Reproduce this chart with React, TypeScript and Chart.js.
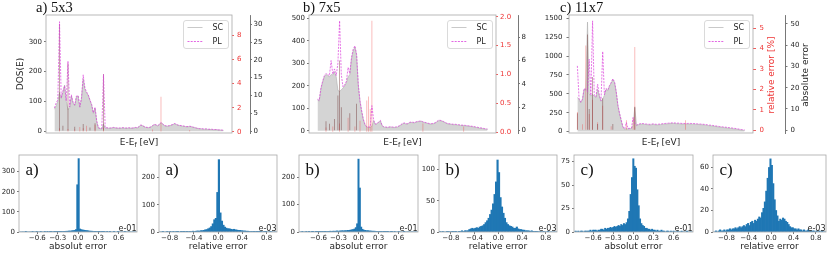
import React, { useEffect, useRef } from "react";
import { Chart, registerables } from "chart.js";

Chart.register(...registerables);

/* ================= DATA : top row (density of states) ================= */
const PANEL_TITLES = ["a) 5x3", "b) 7x5", "c) 11x7"];
const LEGEND_LABELS = ["SC", "PL"];
const DOS_Y_TITLE = "DOS(E)";
const REL_TITLE = "relative error [%]";
const ABS_TITLE = "absolute error";

const DOS_A_SC = [
  74, 85, 100, 130, 110, 130, 155, 100, 72, 80, 118, 95, 85, 115, 118, 80, 110, 175, 140, 128,
  120, 103, 88, 60, 78, 32, 10, 9, 8, 25, 10,
  11, 10, 10, 11, 12, 11, 10, 10, 10, 11, 11, 10, 10, 11, 10, 10, 11, 12, 11,
  15, 20, 19, 15, 13, 12, 12, 14, 18, 22, 21, 18, 22,
  28, 24, 19, 17, 17, 18, 20, 22, 25, 23, 20, 19, 18,
  17, 16, 15, 15, 16, 15, 13, 12, 10, 9, 8, 8, 7,
  7, 7, 6, 6, 6, 5, 5, 5, 4, 4, 3, 3,
];
const DOS_A_PL = [
  78, 95, 105, 367, 112, 135, 152, 102, 235, 82, 122, 97, 88, 118, 120, 82, 112, 189, 145, 132,
  122, 105, 90, 62, 80, 35, 12, 10, 9, 190, 12,
  12, 11, 11, 12, 13, 12, 11, 11, 11, 12, 12, 11, 11, 12, 11, 11, 12, 13, 12,
  16, 21, 20, 16, 14, 13, 13, 15, 19, 23, 22, 19, 23,
  30, 25, 20, 18, 18, 19, 21, 23, 26, 24, 21, 20, 19,
  18, 17, 16, 16, 17, 16, 14, 13, 11, 10, 9, 9, 8,
  8, 8, 7, 7, 7, 6, 6, 6, 5, 5, 4, 4,
];
const REL_A = [[63, 2.9], [3, 0.3], [8, 0.25], [12, 0.2], [15, 0.4], [17, 0.3], [19, 0.5], [24, 0.6], [29, 0.35], [58, 0.2], [80, 0.15]];
const ABS_A = [[3, 30], [8, 19], [29, 16], [5, 1.5], [12, 1.2], [17, 2], [21, 1], [24, 2.2]];
const DOS_A_TICKS = [0, 100, 200, 300];
const REL_A_TICKS = [0, 2, 4, 6, 8];
const ABS_A_TICKS = [0, 5, 10, 15, 20, 25, 30];

const DOS_B_SC = [
  137, 132, 185, 215, 240, 250, 245, 240, 250, 248,
  262, 240, 180, 175, 182, 190, 200, 215, 240, 250,
  320, 355, 372, 335, 200, 130, 85, 48, 25, 16,
  15, 15, 20, 45, 28, 30, 38, 44, 22, 16,
  15, 14, 15, 16, 15, 14, 15, 16, 20, 25,
  30, 33, 30, 30, 35, 37, 36, 35, 38, 40,
  41, 42, 38, 36, 34, 32, 30, 30, 31, 33,
  38, 44, 45, 43, 40, 36, 32, 30, 29, 28,
  27, 27, 26, 25, 24, 23, 23, 22, 21, 20,
  19, 18, 17, 15, 14, 12, 11, 10, 8, 7, 6,
];
const DOS_B_PL = [
  140, 135, 190, 220, 245, 255, 250, 245, 312, 252,
  275, 245, 300, 489, 250, 195, 205, 220, 282, 255,
  326, 363, 378, 340, 205, 133, 88, 50, 27, 18,
  17, 17, 112, 48, 30, 32, 40, 46, 24, 18,
  17, 16, 17, 18, 17, 16, 17, 18, 22, 27,
  33, 35, 32, 32, 37, 39, 38, 37, 40, 42,
  43, 44, 40, 38, 36, 34, 32, 32, 33, 35,
  40, 46, 47, 45, 42, 38, 34, 32, 31, 30,
  29, 29, 28, 27, 26, 25, 25, 24, 23, 22,
  21, 20, 19, 17, 16, 14, 13, 12, 10, 9, 8,
];
const REL_B = [[32, 1.93], [29, 0.55], [30, 0.62], [31, 0.4], [18, 0.25], [13, 0.15], [22, 0.1], [25, 0.2], [62, 0.15], [86, 0.1], [5, 0.08], [9, 0.1]];
const ABS_B = [[13, 6], [12, 3], [14, 2], [23, 2.3], [19, 1.5], [5, 0.8], [7, 0.6], [10, 1.0]];
const DOS_B_TICKS = [0, 100, 200, 300, 400, 500];
const REL_B_TICKS = [0, 0.5, 1, 1.5, 2];
const ABS_B_TICKS = [0, 2, 4, 6, 8];

const DOS_C_SC = [
  450, 430, 380, 420, 560, 550, 1450, 500, 470, 490,
  470, 450, 560, 470, 400, 430, 480, 560, 540, 600,
  640, 690, 650, 520, 340, 230, 140, 55, 33, 40,
  35, 38, 40, 80, 320, 77, 90, 95, 100, 98,
  95, 92, 90, 88, 92, 95, 90, 88, 90, 92,
  95, 98, 100, 102, 104, 106, 108, 108, 106, 104,
  104, 102, 100, 100, 99, 100, 101, 100, 99, 98,
  97, 95, 93, 92, 90, 88, 85, 82, 78, 77,
  74, 70, 67, 64, 60, 57, 55, 52, 50, 47,
  44, 42, 38, 35, 32, 28, 24, 20, 17, 15,
];
const DOS_C_PL = [
  870, 440, 390, 430, 570, 560, 530, 960, 480, 1466,
  480, 460, 628, 480, 410, 1060, 490, 570, 550, 610,
  650, 700, 660, 530, 350, 240, 150, 60, 38, 121,
  40, 43, 45, 187, 110, 85, 98, 103, 108, 106,
  103, 100, 98, 96, 100, 103, 98, 96, 98, 100,
  103, 106, 108, 110, 112, 114, 116, 116, 114, 112,
  112, 110, 108, 108, 107, 108, 109, 108, 107, 106,
  105, 103, 101, 100, 98, 96, 93, 90, 86, 85,
  82, 78, 75, 72, 68, 65, 63, 60, 58, 55,
  52, 50, 46, 43, 40, 36, 32, 28, 25, 23,
];
const REL_C = [[34, 4.08], [5, 4.16], [9, 1.5], [15, 1.2], [7, 0.8], [0, 0.9], [12, 0.4], [29, 0.5], [33, 0.6], [64, 0.5], [3, 0.3], [20, 0.2]];
const ABS_C = [[6, 45], [9, 25], [15, 15], [34, 11], [7, 10], [0, 8], [12, 3], [21, 3]];
const DOS_C_TICKS = [0, 250, 500, 750, 1000, 1250, 1500];
const REL_C_TICKS = [0, 1, 2, 3, 4, 5];
const ABS_C_TICKS = [0, 10, 20, 30, 40, 50];

/* ================= DATA : bottom row (error histograms) ================= */
const HIST_LETTERS = ["a)", "a)", "b)", "b)", "c)", "c)"];
const HIST_X_TITLES = ["absolut error", "relative error", "absolut error", "relative error", "absolut error", "relative error"];
const HIST_EXPONENTS = ["e-01", "e-03", "e-01", "e-03", "e-01", "e-03"];
const ABS_X_TICKS = [-0.6, -0.3, 0, 0.3, 0.6];
const REL_X_TICKS = [-0.8, -0.4, 0, 0.4, 0.8];

const H1_COUNTS = [
  0, 0, 0, 0, 1, 0, 0, 0, 0, 1,
  0, 0, 1, 0, 0, 1, 0, 0, 1, 0,
  1, 0, 1, 1, 0, 1, 1, 2, 1, 1,
  2, 2, 3, 3, 4, 4, 5, 5, 6, 7,
  8, 12, 235, 365,
  15, 12, 10, 9, 8, 7,
  6, 5, 4, 4, 3, 3, 2, 2, 1, 2,
  1, 1, 1, 0, 1, 0, 1, 0, 0, 1,
  0, 0, 1, 0, 0, 0, 0, 1, 0, 0,
  0, 0, 0, 0, 0, 0,
];
const H2_COUNTS = [
  0, 0, 1, 0, 0, 1, 0, 1, 0, 1,
  0, 1, 1, 0, 1, 1, 1, 2, 1, 2,
  2, 2, 3, 2, 3, 4, 3, 5, 5, 6,
  8, 9, 12, 15, 20, 30, 45, 50,
  145, 265,
  70, 40, 25, 18, 14, 12, 12, 10, 9, 10,
  8, 7, 6, 6, 5, 4, 4, 3, 3, 2,
  2, 2, 1, 2, 1, 1, 1, 1, 0, 1,
  1, 0, 0, 1, 0, 0, 0, 0,
];
const H3_COUNTS = [
  0, 0, 1, 0, 0, 1, 0, 1, 0, 1,
  1, 0, 1, 1, 1, 1, 2, 1, 2, 1,
  2, 2, 2, 3, 2, 3, 3, 3, 4, 3,
  4, 4, 5, 4, 5, 5, 6, 6, 7, 8,
  9, 11, 16, 30,
  265, 160,
  18, 10, 7, 6,
  5, 5, 4, 4, 3, 3, 3, 2, 2, 2,
  2, 1, 2, 1, 1, 1, 1, 0, 1, 1,
  0, 1, 0, 0, 1, 0, 0, 0, 1, 0,
  0, 0, 0, 0, 0, 0, 0, 0, 0,
];
const H4_COUNTS = [
  1, 0, 1, 0, 0, 1, 1, 0, 1, 1,
  1, 1, 0, 1, 1, 2, 1, 2, 2, 2,
  4, 5, 6, 5, 6, 7, 6, 8, 9, 10,
  12, 15, 18, 22, 28, 35, 45, 60, 80,
  115, 95,
  55, 40, 30, 22, 15, 12, 10, 9, 8,
  6, 6, 8, 5, 4, 4, 3, 3, 2, 2,
  2, 1, 2, 1, 1, 1, 1, 0, 1, 0,
  1, 0, 0, 1, 0, 0, 0, 0, 0, 0,
];
const H5_COUNTS = [
  0, 1, 0, 1, 0, 1, 1, 0, 1, 1,
  1, 1, 2, 1, 2, 2, 2, 1, 2, 2,
  3, 3, 2, 4, 3, 4, 4, 5, 4, 5,
  6, 5, 6, 7, 6, 8, 7, 9, 8, 10,
  14, 22, 40, 58,
  78,
  70, 68, 45, 28, 14,
  9, 7, 6, 4, 4, 3, 3, 2, 3, 2,
  2, 1, 2, 1, 1, 2, 1, 1, 0, 1,
  1, 0, 1, 0, 1, 0, 0, 1, 0, 0,
  1, 0, 0, 0, 1, 0, 0, 0, 0,
];
const H6_COUNTS = [
  0, 1, 0, 1, 2, 1, 1, 2, 1, 2,
  2, 3, 2, 3, 3, 4, 3, 4, 5, 4,
  5, 6, 5, 7, 8, 6, 9, 10, 8, 11,
  10, 12, 14, 13, 18, 22, 28, 38, 50, 60,
  68, 62,
  45, 30, 20, 15, 10, 12, 11, 13,
  12, 10, 9, 7, 5, 4, 4, 3, 3, 2,
  3, 2, 2, 1, 2, 1, 1, 2, 1, 1,
  1, 1, 0, 1, 0, 1, 0, 1, 0, 0,
];

const HISTS = [
  { counts: H1_COUNTS, start: -0.86, width: 0.02, xMin: -0.87, xMax: 0.87, yMax: 383, xTicks: ABS_X_TICKS, yTicks: [0, 100, 200, 300] },
  { counts: H2_COUNTS, start: -0.975, width: 0.025, xMin: -0.975, xMax: 0.97, yMax: 282, xTicks: REL_X_TICKS, yTicks: [0, 100, 200] },
  { counts: H3_COUNTS, start: -0.89, width: 0.02, xMin: -0.89, xMax: 0.89, yMax: 280, xTicks: ABS_X_TICKS, yTicks: [0, 100, 200] },
  { counts: H4_COUNTS, start: -1.0, width: 0.025, xMin: -1.0, xMax: 0.99, yMax: 123, xTicks: REL_X_TICKS, yTicks: [0, 50, 100] },
  { counts: H5_COUNTS, start: -0.89, width: 0.02, xMin: -0.885, xMax: 0.89, yMax: 82, xTicks: ABS_X_TICKS, yTicks: [0, 25, 50, 75] },
  { counts: H6_COUNTS, start: -1.025, width: 0.025, xMin: -1.04, xMax: 0.98, yMax: 71.6, xTicks: REL_X_TICKS, yTicks: [0, 20, 40, 60] },
];

const DOS_PANELS = [
  { sc: DOS_A_SC, pl: DOS_A_PL, rel: REL_A, abs: ABS_A, dosTicks: DOS_A_TICKS, relTicks: REL_A_TICKS, absTicks: ABS_A_TICKS, relDec: 0, dosRange: [-5.7, 389.4], relRange: [-0.09, 9.66], absRange: [-0.53, 32.6] },
  { sc: DOS_B_SC, pl: DOS_B_PL, rel: REL_B, abs: ABS_B, dosTicks: DOS_B_TICKS, relTicks: REL_B_TICKS, absTicks: ABS_B_TICKS, relDec: 1, dosRange: [-9.8, 514.7], relRange: [-0.014, 2.031], absRange: [-0.2, 9.9] },
  { sc: DOS_C_SC, pl: DOS_C_PL, rel: REL_C, abs: ABS_C, dosTicks: DOS_C_TICKS, relTicks: REL_C_TICKS, absTicks: ABS_C_TICKS, relDec: 0, dosRange: [-18.5, 1544], relRange: [-0.13, 5.65], absRange: [-1.29, 54.2] },
];

/* ================= layout & style ================= */
const FONT = "DejaVu Sans";
const SERIF = "Liberation Serif";
const TICK_FONT = { family: FONT, size: 7 };
const TITLE_FONT = { family: FONT, size: 9 };
const TXT = "#262626";
const AXC = "#555555";
const RED = "#ee3333";
const FRAME = "#a8a8a8";
const SC_LINE = "rgba(175,175,175,0.9)";
const SC_FILL = "rgb(212,212,212)";
const PL_LINE = "rgba(218,55,218,0.85)";
const BAR = "#1f77b4";

const TOP_H = 145;
const DOS_LAYOUT = [
  { left: 0, width: 275, wl: 46, wr: 18, wb: 25, padR: 0, lTick: 2, lPad: 2, rTick: 2, rPad: 3, bTick: 2, bPad: 1.5, title: true },
  { left: 275, width: 265, wl: 34, wr: 22, wb: 22, padR: 0, lTick: 2, lPad: 2, rTick: 2, rPad: 2, bTick: 2, bPad: 1.5, title: false },
  { left: 540, width: 290, wl: 29, wr: 32, wb: 27, padR: 18, lTick: 2.5, lPad: 4, rTick: 3, rPad: 3.5, bTick: 2.5, bPad: 3, title: false },
];
const DOS_AREAS = [[46, 232], [309, 496], [569, 753]];
const HIST_LAYOUT = [
  { left: 0, width: 140, padR: 3 },
  { left: 140, width: 140, padR: 3 },
  { left: 280, width: 140, padR: 2 },
  { left: 420, width: 140, padR: 3 },
  { left: 555, width: 140, padR: 2 },
  { left: 694, width: 136, padR: 4 },
];
const HIST_AREAS = [[19, 137], [159, 277], [299, 418], [439, 557], [574, 693], [713, 826]];

const fmt = (v: number, d: number) => (v < 0 ? "\u2212" : "") + Math.abs(v).toFixed(d);

const framePlugin = (color: string) => ({
  id: "frame",
  afterDatasetsDraw(chart: any) {
    const { ctx, chartArea: a } = chart;
    ctx.save();
    ctx.strokeStyle = color;
    ctx.lineWidth = 0.8;
    ctx.strokeRect(a.left, a.top, a.right - a.left, a.bottom - a.top);
    ctx.restore();
  },
});

const legendPlugin = {
  id: "dosLegend",
  afterDraw(chart: any) {
    const { ctx, chartArea: a } = chart;
    const w = 45, h = 28;
    const x = a.right - 3.5 - w, y = a.top + 5.5;
    ctx.save();
    ctx.beginPath();
    ctx.roundRect(x, y, w, h, 2.5);
    ctx.fillStyle = "rgba(255,255,255,0.85)";
    ctx.fill();
    ctx.strokeStyle = "#d0d0d0";
    ctx.lineWidth = 0.8;
    ctx.stroke();
    const rows = [y + 7, y + 21];
    const styles = [
      { color: "rgba(195,195,195,1)", dash: [] as number[] },
      { color: PL_LINE, dash: [2, 1.2] },
    ];
    LEGEND_LABELS.forEach((lab, i) => {
      ctx.beginPath();
      ctx.setLineDash(styles[i].dash);
      ctx.strokeStyle = styles[i].color;
      ctx.lineWidth = 0.9;
      ctx.moveTo(x + 4, rows[i]);
      ctx.lineTo(x + 19, rows[i]);
      ctx.stroke();
      ctx.setLineDash([]);
      ctx.fillStyle = TXT;
      ctx.font = `8px "${FONT}"`;
      ctx.textBaseline = "middle";
      ctx.textAlign = "left";
      ctx.fillText(lab, x + 29, rows[i]);
    });
    ctx.restore();
  },
};

function yAxis(o: any) {
  return {
    type: "linear",
    position: o.position,
    weight: o.weight || 0,
    min: o.min,
    max: o.max,
    afterBuildTicks: (s: any) => { s.ticks = o.ticks.map((v: number) => ({ value: v })); },
    afterFit: (s: any) => { s.width = o.width; },
    grid: { display: true, drawOnChartArea: false, drawTicks: true, tickLength: o.tickLength, color: o.tickColor, tickColor: o.tickColor, tickWidth: 0.8 },
    border: { display: !!o.border, color: o.border || o.tickColor, width: 0.8 },
    ticks: { color: o.color, font: TICK_FONT, padding: o.pad, autoSkip: false, maxRotation: 0, callback: (v: any) => fmt(Number(v), o.dec || 0) },
    title: o.title
      ? { display: true, text: o.title, color: TXT, font: TITLE_FONT, padding: { top: o.titlePad, bottom: 0 } }
      : { display: false },
  };
}

const errBar = { barThickness: 0.8, maxBarThickness: 0.8, inflateAmount: 0, borderWidth: 0, grouped: false };

function dosConfig(i: number) {
  const p = DOS_PANELS[i];
  const L = DOS_LAYOUT[i];
  const n = p.sc.length - 1;
  return {
    type: "line",
    data: {
      datasets: [
        { type: "line", label: LEGEND_LABELS[1], data: p.pl.map((y, k) => ({ x: k, y })), yAxisID: "y", borderColor: PL_LINE, borderWidth: 0.8, borderDash: [2, 1.2], pointRadius: 0, fill: false, tension: 0, order: 0 },
        { type: "bar", label: "abs", data: p.abs.map(([x, y]) => ({ x, y })), yAxisID: "yAbs", backgroundColor: "rgba(100,35,35,0.5)", ...errBar, order: 1 },
        { type: "bar", label: "rel", data: p.rel.map(([x, y]) => ({ x, y })), yAxisID: "yRel", backgroundColor: "rgba(240,70,70,0.45)", ...errBar, order: 2 },
        { type: "line", label: LEGEND_LABELS[0], data: p.sc.map((y, k) => ({ x: k, y })), yAxisID: "y", borderColor: SC_LINE, backgroundColor: SC_FILL, borderWidth: 0.7, pointRadius: 0, fill: "origin", tension: 0, order: 3 },
      ],
    },
    options: {
      animation: false,
      responsive: false,
      events: [],
      layout: { padding: { left: 0, right: L.padR, top: 15, bottom: TOP_H - 133 } },
      plugins: { legend: { display: false }, tooltip: { enabled: false }, title: { display: false } },
      scales: {
        x: { type: "linear", display: false, min: -0.05 * n, max: 1.05 * n, offset: false, grid: { offset: false } },
        y: yAxis({ position: "left", min: p.dosRange[0], max: p.dosRange[1], ticks: p.dosTicks, width: L.wl, tickLength: L.lTick, pad: L.lPad, color: TXT, tickColor: AXC, title: L.title ? DOS_Y_TITLE : null, titlePad: 15.3 }),
        yRel: yAxis({ position: "right", weight: 0, min: p.relRange[0], max: p.relRange[1], ticks: p.relTicks, width: L.wr, tickLength: L.rTick, pad: L.rPad, color: RED, tickColor: RED, dec: p.relDec }),
        yAbs: yAxis({ position: "right", weight: 1, min: p.absRange[0], max: p.absRange[1], ticks: p.absTicks, width: L.wb, tickLength: L.bTick, pad: L.bPad, color: TXT, tickColor: AXC, border: "#555555" }),
      },
    },
    plugins: [framePlugin(FRAME), legendPlugin],
  };
}

function histConfig(i: number) {
  const h = HISTS[i];
  const L = HIST_LAYOUT[i];
  return {
    type: "bar",
    data: {
      datasets: [
        { data: h.counts.map((c, k) => ({ x: h.start + (k + 0.5) * h.width, y: c })), backgroundColor: BAR, borderWidth: 0, barPercentage: 1, categoryPercentage: 1, grouped: false },
      ],
    },
    options: {
      animation: false,
      responsive: false,
      events: [],
      layout: { padding: { left: 0, right: L.padR, top: 15, bottom: 0 } },
      plugins: { legend: { display: false }, tooltip: { enabled: false }, title: { display: false } },
      scales: {
        x: {
          type: "linear",
          min: h.xMin,
          max: h.xMax,
          offset: false,
          afterBuildTicks: (s: any) => { s.ticks = h.xTicks.map((v) => ({ value: v })); },
          afterFit: (s: any) => { s.height = 23; },
          grid: { display: true, offset: false, drawOnChartArea: false, drawTicks: true, tickLength: 2, color: AXC, tickColor: AXC, tickWidth: 0.8 },
          border: { display: false },
          ticks: { color: TXT, font: TICK_FONT, padding: 0, autoSkip: false, maxRotation: 0, callback: (v: any) => fmt(Number(v), 1) },
          title: { display: true, text: HIST_X_TITLES[i], color: TXT, font: TITLE_FONT, padding: { top: 0, bottom: 2.6 } },
        },
        y: yAxis({ position: "left", min: 0, max: h.yMax, ticks: h.yTicks, width: 19, tickLength: 2, pad: 2, color: TXT, tickColor: AXC }),
      },
    },
    plugins: [framePlugin(FRAME)],
  };
}

function ChartCanvas({ left, top, width, height, build }: any) {
  const ref = useRef<HTMLCanvasElement | null>(null);
  useEffect(() => {
    const chart = new Chart(ref.current as HTMLCanvasElement, build() as any);
    return () => chart.destroy();
  }, []);
  return <canvas ref={ref} width={width} height={height} style={{ position: "absolute", left, top, width, height }} />;
}

const abs = (x: number, y: number, extra: any = {}) => ({ position: "absolute" as const, left: x, top: y, whiteSpace: "nowrap" as const, lineHeight: 1, ...extra });

export default function App() {
  return (
    <div style={{ position: "absolute", left: 0, top: 0, width: 830, height: 255, background: "#fff", overflow: "hidden" }}>
      {HIST_LAYOUT.map((L, i) => (
        <ChartCanvas key={"h" + i} left={L.left} top={140} width={L.width} height={115} build={() => histConfig(i)} />
      ))}
      {DOS_LAYOUT.map((L, i) => (
        <ChartCanvas key={"d" + i} left={L.left} top={0} width={L.width} height={TOP_H} build={() => dosConfig(i)} />
      ))}

      {PANEL_TITLES.map((t, i) => (
        <div key={"t" + i} style={abs([36, 303, 560][i], 6.5, { fontFamily: SERIF, fontSize: 14.5, color: "#111", transform: "translateY(-50%)" })}>{t}</div>
      ))}
      {DOS_AREAS.map(([l, r], i) => (
        <div key={"xl" + i} style={abs((l + r) / 2, 142, { fontFamily: FONT, fontSize: 9, color: TXT, transform: "translate(-50%,-50%)" })}>
          E-E<span style={{ fontSize: 6.5, position: "relative", top: 2 }}>f</span> [eV]
        </div>
      ))}
      <div style={abs(771, 75, { fontFamily: FONT, fontSize: 9, color: RED, transform: "translate(-50%,-50%) rotate(-90deg)" })}>{REL_TITLE}</div>
      <div style={abs(805, 75, { fontFamily: FONT, fontSize: 9, color: TXT, transform: "translate(-50%,-50%) rotate(-90deg)" })}>{ABS_TITLE}</div>

      {HIST_AREAS.map(([l, r], i) => (
        <React.Fragment key={"hl" + i}>
          <div style={abs(l + 6.5, 169, { fontFamily: SERIF, fontSize: 17, color: "#111", transform: "translateY(-50%)" })}>{HIST_LETTERS[i]}</div>
          <div style={abs(r - 0.5, 228.5, { fontFamily: FONT, fontSize: 8, color: TXT, transform: "translate(-100%,-50%)" })}>{HIST_EXPONENTS[i]}</div>
        </React.Fragment>
      ))}
    </div>
  );
}
